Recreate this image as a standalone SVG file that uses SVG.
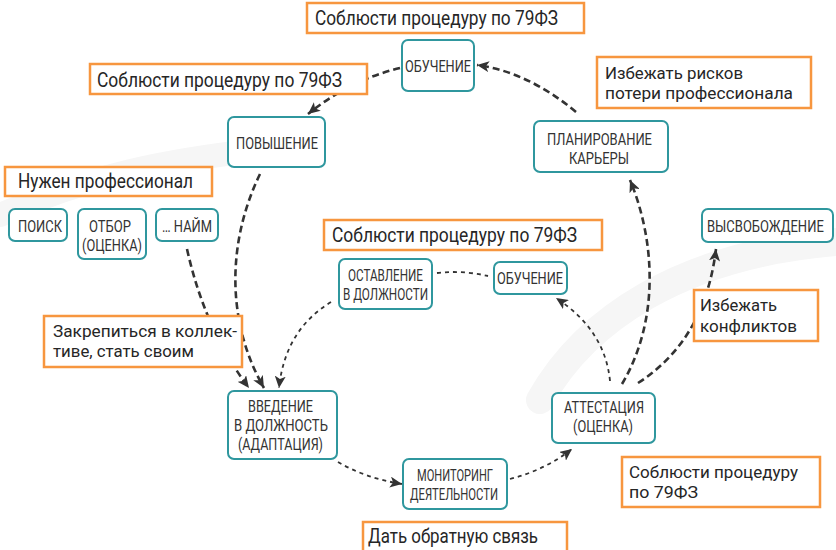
<svg xmlns="http://www.w3.org/2000/svg" width="836" height="550" viewBox="0 0 836 550">
<style>
.bg{fill:none;stroke:#f6f6f6;stroke-linecap:round}
.node rect{fill:#fff;stroke:#2f979e;stroke-width:2}
.node text{font-family:Roboto,"Liberation Sans",sans-serif;font-size:17px;fill:#333}
.lab rect{fill:#fff;stroke:#f7963f;stroke-width:2.5}
.lab text{font-family:Roboto,"Liberation Sans",sans-serif;font-size:20px;fill:#262626}
.lab text.two{font-size:17px}
.thick{fill:none;stroke:#333;stroke-width:2.6;stroke-dasharray:7 4}
.thin{fill:none;stroke:#333;stroke-width:1.8;stroke-dasharray:4 4}
</style>
<defs>
<marker id="ah" markerUnits="userSpaceOnUse" markerWidth="13" markerHeight="11" refX="12" refY="5.5" orient="auto">
<path d="M0,0 L12,5.5 L0,11 L3,5.5 z" fill="#333"/>
</marker>
</defs>
<rect width="836" height="550" fill="#fff"/>
<g id="background">
<path class="bg" d="M540,400 C585,320 680,255 836,242" stroke-width="28"/>
<path class="bg" d="M0,215 C90,175 170,160 260,150" stroke-width="24"/>
</g>
<g id="connectors">
<path class="thick" d="M400,68 Q350,80 308,114" marker-end="url(#ah)"/>
<path class="thick" d="M576,112 Q528,72 477,65" marker-end="url(#ah)"/>
<path class="thick" d="M260,174 C228,240 225,320 264,388" marker-end="url(#ah)"/>
<path class="thick" d="M187,249 Q205,330 249,388" marker-end="url(#ah)"/>
<path class="thin" d="M331,302 Q285,330 279,388" marker-end="url(#ah)"/>
<path class="thin" d="M437,273 Q462,270 488,276"/>
<path class="thin" d="M610,381 Q605,330 556,298" marker-end="url(#ah)"/>
<path class="thick" d="M622,384 C660,320 655,240 630,180" marker-end="url(#ah)"/>
<path class="thick" d="M638,383 Q705,340 716,249" marker-end="url(#ah)"/>
<path class="thin" d="M338,462 Q365,478 402,484" marker-end="url(#ah)"/>
<path class="thin" d="M510,479 Q545,470 572,449" marker-end="url(#ah)"/>
</g>
<g id="n-obuchenie-top" class="node"><rect x="402" y="40" width="72" height="51" rx="6"/><text x="405" y="72" textLength="66" lengthAdjust="spacingAndGlyphs">ОБУЧЕНИЕ</text></g>
<g id="n-povyshenie" class="node"><rect x="228" y="117" width="97" height="50" rx="6"/><text x="236" y="149" textLength="82" lengthAdjust="spacingAndGlyphs">ПОВЫШЕНИЕ</text></g>
<g id="n-planirovanie" class="node"><rect x="534" y="121" width="134" height="51" rx="6"/><text x="547" y="145" textLength="105" lengthAdjust="spacingAndGlyphs">ПЛАНИРОВАНИЕ</text><text x="569" y="164" textLength="60" lengthAdjust="spacingAndGlyphs">КАРЬЕРЫ</text></g>
<g id="n-poisk" class="node"><rect x="9" y="209" width="58" height="32" rx="6"/><text x="18" y="232" textLength="44" lengthAdjust="spacingAndGlyphs">ПОИСК</text></g>
<g id="n-otbor" class="node"><rect x="78" y="209" width="68" height="50" rx="6"/><text x="89" y="232" textLength="42" lengthAdjust="spacingAndGlyphs">ОТБОР</text><text x="82" y="251" textLength="60" lengthAdjust="spacingAndGlyphs">(ОЦЕНКА)</text></g>
<g id="n-naim" class="node"><rect x="156" y="209" width="62" height="32" rx="6"/><text x="162" y="232" textLength="50" lengthAdjust="spacingAndGlyphs">… НАЙМ</text></g>
<g id="n-ostavlenie" class="node"><rect x="339" y="259" width="93" height="50" rx="6"/><text x="348" y="281" textLength="75" lengthAdjust="spacingAndGlyphs">ОСТАВЛЕНИЕ</text><text x="343" y="300" textLength="85" lengthAdjust="spacingAndGlyphs">В ДОЛЖНОСТИ</text></g>
<g id="n-obuchenie-center" class="node"><rect x="494" y="262" width="73" height="32" rx="6"/><text x="497" y="284" textLength="66" lengthAdjust="spacingAndGlyphs">ОБУЧЕНИЕ</text></g>
<g id="n-vysvobozhdenie" class="node"><rect x="702" y="209" width="131" height="33" rx="6"/><text transform="translate(707,232) scale(0.8,1)" x="0" y="0" textLength="146" lengthAdjust="spacingAndGlyphs">ВЫСВОБОЖДЕНИЕ</text></g>
<g id="n-vvedenie" class="node"><rect x="228" y="391" width="109" height="68" rx="6"/><text x="248" y="412" textLength="65" lengthAdjust="spacingAndGlyphs">ВВЕДЕНИЕ</text><text x="234" y="431" textLength="94" lengthAdjust="spacingAndGlyphs">В ДОЛЖНОСТЬ</text><text x="238" y="450" textLength="85" lengthAdjust="spacingAndGlyphs">(АДАПТАЦИЯ)</text></g>
<g id="n-attestaciya" class="node"><rect x="552" y="393" width="103" height="50" rx="6"/><text x="564" y="413" textLength="80" lengthAdjust="spacingAndGlyphs">АТТЕСТАЦИЯ</text><text x="573" y="432" textLength="60" lengthAdjust="spacingAndGlyphs">(ОЦЕНКА)</text></g>
<g id="n-monitoring" class="node"><rect x="403" y="459" width="104" height="50" rx="6"/><text x="417" y="481" textLength="76" lengthAdjust="spacingAndGlyphs">МОНИТОРИНГ</text><text x="410" y="500" textLength="88" lengthAdjust="spacingAndGlyphs">ДЕЯТЕЛЬНОСТИ</text></g>
<g id="l-top" class="lab"><rect x="307" y="3" width="277" height="30"/><text x="315" y="25" textLength="243" lengthAdjust="spacingAndGlyphs">Соблюсти процедуру по 79ФЗ</text></g>
<g id="l-left" class="lab"><rect x="90" y="64" width="277" height="30"/><text x="97" y="87" textLength="245" lengthAdjust="spacingAndGlyphs">Соблюсти процедуру по 79ФЗ</text></g>
<g id="l-riski" class="lab"><rect x="597" y="57" width="214" height="51"/><text class="two" x="605" y="79" textLength="138" lengthAdjust="spacingAndGlyphs">Избежать рисков</text><text class="two" x="605" y="99" textLength="188" lengthAdjust="spacingAndGlyphs">потери профессионала</text></g>
<g id="l-nuzhen" class="lab"><rect x="5" y="167" width="207" height="29"/><text x="18" y="188" textLength="175" lengthAdjust="spacingAndGlyphs">Нужен профессионал</text></g>
<g id="l-center" class="lab"><rect x="324" y="220" width="278" height="30"/><text x="332" y="242" textLength="245" lengthAdjust="spacingAndGlyphs">Соблюсти процедуру по 79ФЗ</text></g>
<g id="l-konflikty" class="lab"><rect x="694" y="290" width="124" height="51"/><text class="two" x="700" y="311" textLength="77" lengthAdjust="spacingAndGlyphs">Избежать</text><text class="two" x="700" y="332" textLength="97" lengthAdjust="spacingAndGlyphs">конфликтов</text></g>
<g id="l-zakrepitsya" class="lab"><rect x="44" y="316" width="198" height="51"/><text class="two" x="53" y="337" textLength="184" lengthAdjust="spacingAndGlyphs">Закрепиться в коллек-</text><text class="two" x="53" y="357" textLength="141" lengthAdjust="spacingAndGlyphs">тиве, стать своим</text></g>
<g id="l-bottom-right" class="lab"><rect x="622" y="457" width="198" height="50"/><text class="two" x="629" y="478" textLength="169" lengthAdjust="spacingAndGlyphs">Соблюсти процедуру</text><text class="two" x="629" y="498" textLength="69" lengthAdjust="spacingAndGlyphs">по 79ФЗ</text></g>
<g id="l-obratnaya" class="lab"><rect x="363" y="522" width="204" height="31"/><text x="368" y="543" textLength="170" lengthAdjust="spacingAndGlyphs">Дать обратную связь</text></g>
</svg>
